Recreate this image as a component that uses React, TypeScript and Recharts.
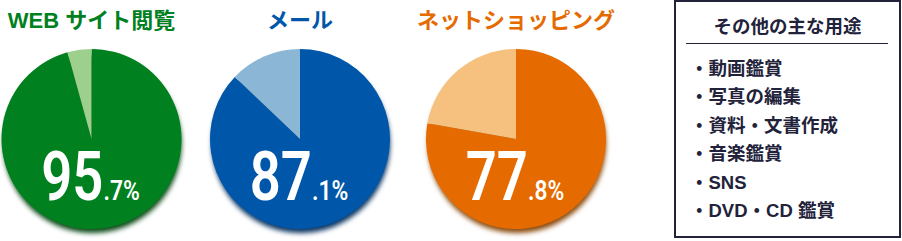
import React from 'react';
import { PieChart, Pie, Cell } from 'recharts';

const titles = ['WEB サイト閲覧', 'メール', 'ネットショッピング'];
const usageRates = [95.7, 87.1, 77.8];
const darkColors = ['#00801F', '#0057AA', '#E56A00'];
const lightColors = ['#9DD08C', '#8CB6D6', '#F6C07F'];
const shadowColors = ['#0B4A17', '#0A3562', '#8A4A0C'];
const boxTitle = 'その他の主な用途';
const otherUses = ['動画鑑賞', '写真の編集', '資料・文書作成', '音楽鑑賞', 'SNS', 'DVD・CD 鑑賞'];

const centersX = [91.5, 300, 516];
const CY = 139;
const R = 90;

const CJK = '"Liberation Sans", "Noto Sans CJK JP", sans-serif';
const NUM = 'Roboto, "Liberation Sans", sans-serif';

function makePercentLabel(rate: number) {
  return (props: any) => {
    if (props.index !== 0) return null;
    const cx = props.cx;
    const cy = props.cy;
    const [intPart, decPart] = rate.toFixed(1).split('.');
    return (
      <text
        x={0}
        y={0}
        transform={`translate(${cx - 1},${cy + 61}) scale(0.8,1)`}
        textAnchor="middle"
        fill="#ffffff"
        fontFamily={NUM}
        fontWeight={600}
      >
        <tspan fontSize={68}>{intPart}</tspan>
        <tspan fontSize={28.5}>{'.' + decPart + '%'}</tspan>
      </text>
    );
  };
}

export default function App() {
  return (
    <div style={{ position: 'absolute', left: 0, top: 0, width: 902, height: 241, background: '#fff', overflow: 'hidden' }}>
      <style>{`.pie-shadow path { filter: blur(2.5px); }`}</style>
      <PieChart
        width={670}
        height={241}
        margin={{ top: 0, right: 0, bottom: 0, left: 0 }}
        style={{ position: 'absolute', left: 0, top: 0 }}
      >
        {usageRates.map((rate, i) => (
          <Pie
            key={'s' + i}
            className="pie-shadow"
            data={[{ name: 'shadow', value: 100 }]}
            dataKey="value"
            cx={centersX[i] + 1}
            cy={CY + 5}
            outerRadius={R - 1}
            startAngle={90}
            endAngle={-270}
            stroke="none"
            isAnimationActive={false}
          >
            <Cell fill={shadowColors[i]} />
          </Pie>
        ))}
        {usageRates.map((rate, i) => (
          <Pie
            key={'p' + i}
            data={[
              { name: 'yes', value: rate },
              { name: 'no', value: +(100 - rate).toFixed(1) },
            ]}
            dataKey="value"
            cx={centersX[i]}
            cy={CY}
            outerRadius={R}
            startAngle={90}
            endAngle={-270}
            stroke="none"
            isAnimationActive={false}
            label={makePercentLabel(rate)}
            labelLine={false}
          >
            <Cell fill={darkColors[i]} />
            <Cell fill={lightColors[i]} />
          </Pie>
        ))}
      </PieChart>
      {titles.map((t, i) => (
        <div
          key={t}
          style={{
            position: 'absolute',
            left: centersX[i] - 120,
            width: 240,
            top: 10,
            textAlign: 'center',
            fontFamily: CJK,
            fontWeight: 700,
            fontSize: 22,
            lineHeight: '22px',
            color: darkColors[i],
            whiteSpace: 'nowrap',
          }}
        >
          {t}
        </div>
      ))}
      <div
        style={{
          position: 'absolute',
          left: 674,
          top: 0,
          width: 227,
          height: 238,
          boxSizing: 'border-box',
          border: '2px solid #22223A',
          fontFamily: CJK,
          color: '#22223A',
          fontWeight: 700,
        }}
      >
        <div
          style={{
            position: 'absolute',
            left: 0,
            right: 0,
            top: 16,
            textAlign: 'center',
            fontSize: 18.5,
            lineHeight: '18.5px',
            whiteSpace: 'nowrap',
          }}
        >
          {boxTitle}
        </div>
        <div style={{ position: 'absolute', left: 10, right: 11, top: 41, borderTop: '1.5px solid #22223A' }} />
        {otherUses.map((u, i) => (
          <div
            key={u}
            style={{
              position: 'absolute',
              left: 14,
              top: 58 + i * 28.4,
              fontSize: 18.5,
              lineHeight: '18.5px',
              whiteSpace: 'nowrap',
            }}
          >
            {'・' + u}
          </div>
        ))}
      </div>
    </div>
  );
}
